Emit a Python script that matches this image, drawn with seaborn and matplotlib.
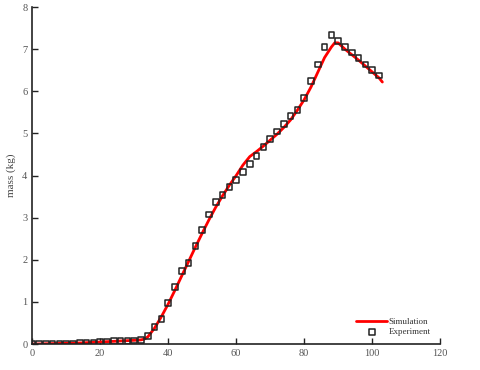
import matplotlib
matplotlib.use("Agg")
import matplotlib.pyplot as plt
import seaborn as sns
import pandas as pd

# simulation curve (time, mass)
sim_time = [0, 5, 10, 15, 20, 25, 30, 32, 33, 34, 36, 38, 40, 42, 44, 46, 48, 50,
            52, 54, 56, 58, 60, 62, 64, 66, 68, 70, 72, 74, 76, 78, 80, 82, 84,
            86, 88, 89, 90, 92, 94, 96, 98, 100, 102, 103]
sim_mass = [0, 0.01, 0.02, 0.03, 0.05, 0.07, 0.09, 0.1, 0.12, 0.17, 0.38, 0.65,
            0.95, 1.28, 1.62, 1.96, 2.3, 2.63, 2.95, 3.25, 3.52, 3.77, 4.0, 4.25,
            4.45, 4.57, 4.7, 4.84, 4.98, 5.14, 5.32, 5.55, 5.8, 6.1, 6.45, 6.8,
            7.05, 7.15, 7.15, 7.0, 6.87, 6.74, 6.6, 6.46, 6.32, 6.22]

# experiment points
exp_time = list(range(0, 104, 2))
exp_mass = [0, 0, 0, 0, 0, 0, 0, 0.02, 0.02, 0.02, 0.05, 0.05, 0.07, 0.07, 0.08,
            0.09, 0.1, 0.19, 0.4, 0.59, 0.98, 1.36, 1.73, 1.93, 2.33, 2.71, 3.08,
            3.37, 3.54, 3.73, 3.9, 4.08, 4.28, 4.47, 4.68, 4.87, 5.05, 5.23, 5.42,
            5.55, 5.84, 6.25, 6.64, 7.05, 7.33, 7.2, 7.05, 6.92, 6.79, 6.64, 6.5,
            6.37]

sim_df = pd.DataFrame({"time": sim_time, "mass": sim_mass})
exp_df = pd.DataFrame({"time": exp_time, "mass": exp_mass})

sns.set_style("white")
plt.rcParams["font.family"] = ["Liberation Serif", "DejaVu Serif"]

fig = plt.figure(figsize=(4.8, 3.7), dpi=100)
ax = fig.add_axes([0.067, 0.07, 0.85, 0.911])

sns.lineplot(data=sim_df, x="time", y="mass", color="red", linewidth=2,
             label="Simulation", ax=ax)
sns.scatterplot(data=exp_df, x="time", y="mass", marker="s", s=16,
                facecolor="none", edgecolor="#222222", linewidth=1.1,
                label="Experiment", ax=ax, zorder=3)

ax.set_xlim(0, 120)
ax.set_ylim(0, 8)
ax.set_xticks(range(0, 121, 20))
ax.set_yticks(range(0, 9))
ax.set_xlabel("")
ax.set_ylabel("mass (kg)", fontsize=8, color="#444444", labelpad=4)

for s in ["top", "right"]:
    ax.spines[s].set_visible(False)
for s in ["left", "bottom"]:
    ax.spines[s].set_color("#222222")
    ax.spines[s].set_linewidth(1.2)

ax.tick_params(direction="in", length=4, width=1, color="#222222",
               labelsize=7.5, labelcolor="#555555", left=True, bottom=True)

leg = ax.legend(loc="lower right", bbox_to_anchor=(0.985, 0.012), frameon=False,
                fontsize=6.5, handlelength=3.4, handletextpad=0.15,
                labelspacing=0.25, borderaxespad=0)
for t in leg.get_texts():
    t.set_color("#333333")

fig.savefig("out.png", dpi=100)
